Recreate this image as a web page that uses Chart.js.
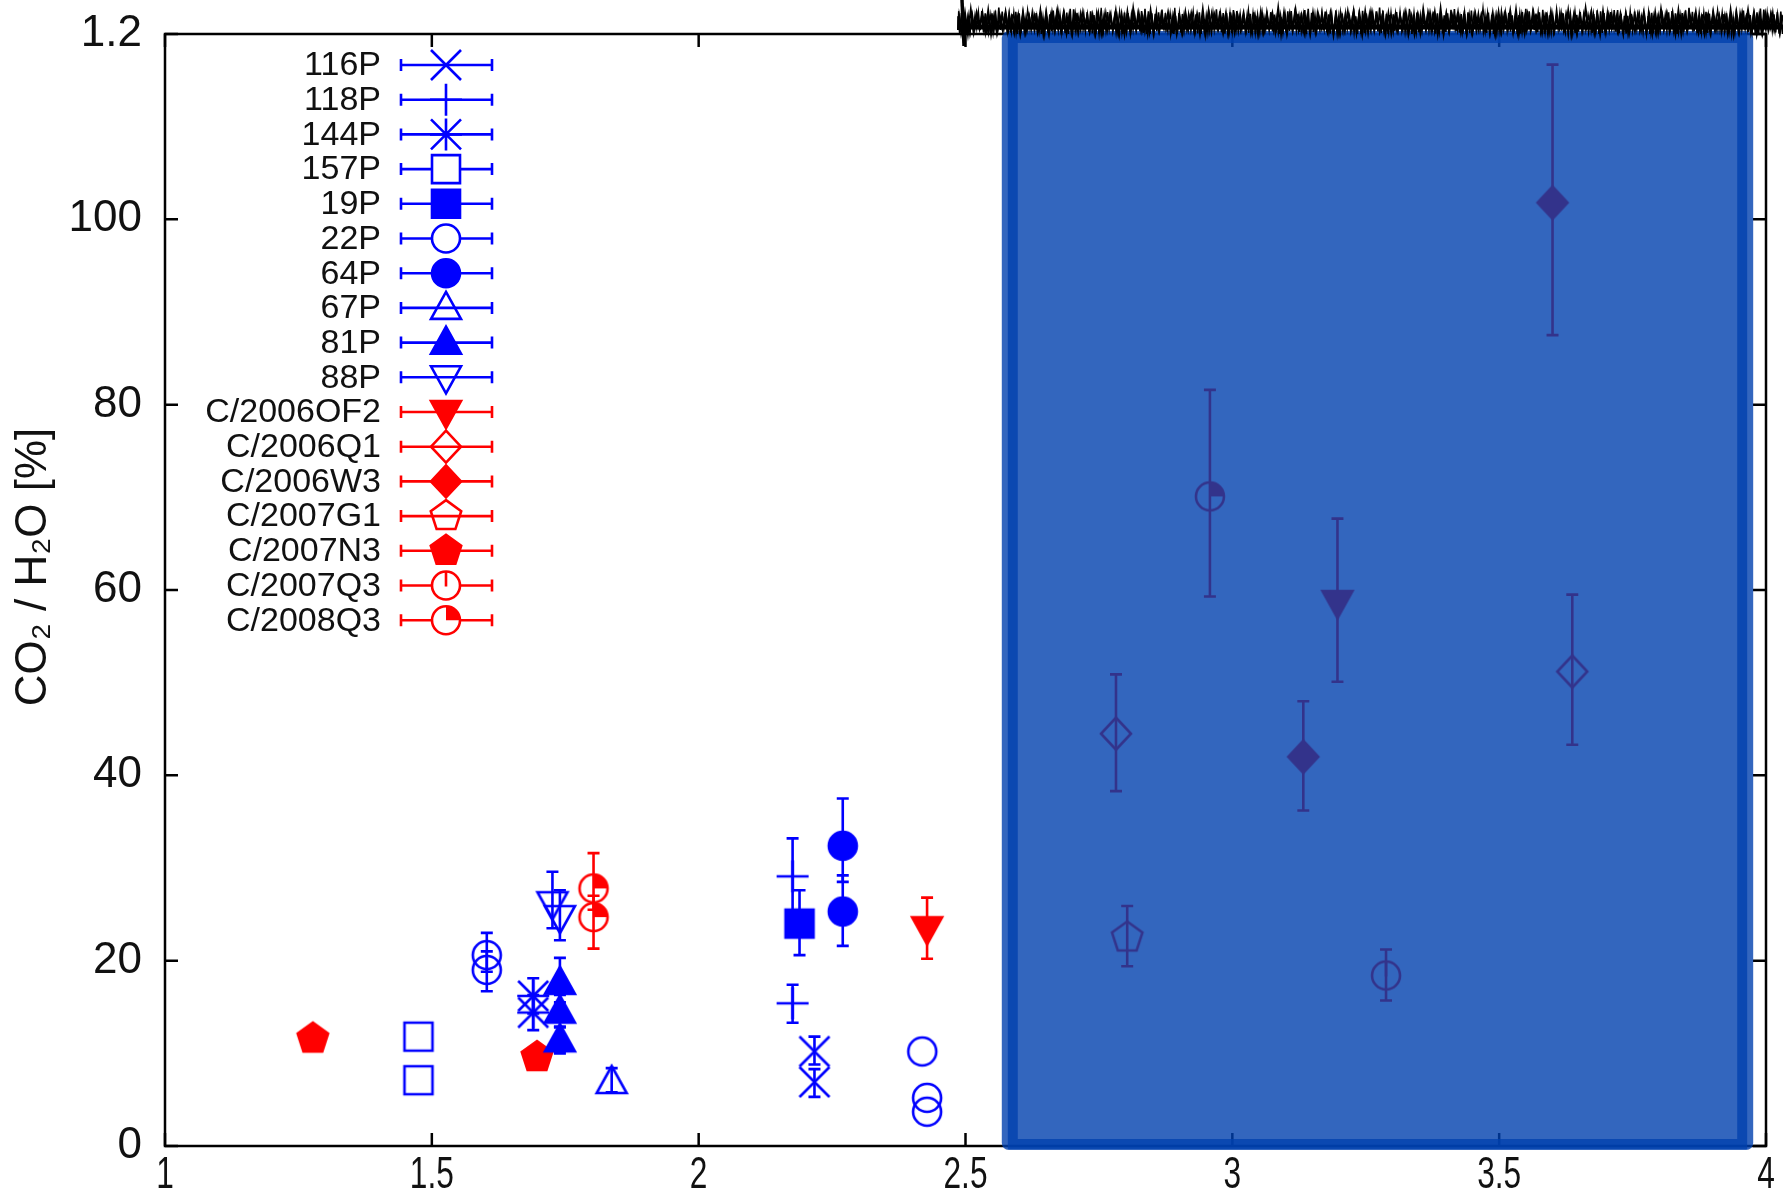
<!DOCTYPE html>
<html>
<head>
<meta charset="utf-8">
<script src="https://cdn.jsdelivr.net/npm/chart.js@4.4.1/dist/chart.umd.min.js"></script>
<style>
  html, body { margin: 0; padding: 0; background: #fff; }
  #contenedor { width: 1783px; height: 1201px; }
</style>
</head>
<body>
<div id="contenedor"><canvas id="graficoCO2"></canvas></div>
<script>
// Ejes
const ticksX = [1, 1.5, 2, 2.5, 3, 3.5, 4];
const ticksY = [0, 20, 40, 60, 80, 100, 120];
const etiquetasY = ['0', '20', '40', '60', '80', '100', '1.2'];

// Cometas (nombre, color del grupo)
const nombres = ['116P', '118P', '144P', '157P', '19P', '22P', '64P', '67P', '81P', '88P',
  'C/2006OF2', 'C/2006Q1', 'C/2006W3', 'C/2007G1', 'C/2007N3', 'C/2007Q3', 'C/2008Q3'];

// Valores: x, CO2/H2O, límite inferior y superior de la barra de error
const x116P = [2.217, 2.217], y116P = [10.2, 6.9], lo116P = [8.8, 5.3], hi116P = [11.8, 8.3];
const x118P = [2.176, 2.176], y118P = [29.1, 15.4], lo118P = [25.0, 13.3], hi118P = [33.2, 17.4];
const x144P = [1.69, 1.69], y144P = [16.2, 14.4], lo144P = [14.3, 12.5], hi144P = [18.1, 16.3];
const x157P = [1.475, 1.475], y157P = [11.8, 7.1], lo157P = [null, null], hi157P = [null, null];
const x19P = [2.189], y19P = [24.0], lo19P = [20.6], hi19P = [27.6];
const x22P = [1.603, 1.603, 2.419, 2.428, 2.428], y22P = [20.6, 19.0, 10.2, 5.2, 3.7];
const lo22P = [18.8, 16.7, null, null, null], hi22P = [23.0, 21.0, null, null, null];
const x64P = [2.27, 2.27], y64P = [32.4, 25.3], lo64P = [28.5, 21.6], hi64P = [37.5, 29.2];
const x67P = [1.837], y67P = [6.9], lo67P = [5.8], hi67P = [8.4];
const x81P = [1.74, 1.74, 1.74], y81P = [17.6, 14.5, 11.4], lo81P = [15.5, 12.8, 10.0], hi81P = [20.3, 16.3, 12.9];
const x88P = [1.726, 1.74], y88P = [26.2, 24.7], lo88P = [23.5, 22.2], hi88P = [29.6, 27.6];
const xOF2 = [2.428, 3.197], yOF2 = [23.5, 58.7], loOF2 = [20.2, 50.1], hiOF2 = [26.8, 67.7];
const xQ1 = [2.782, 3.637], yQ1 = [44.5, 51.2], loQ1 = [38.3, 43.3], hiQ1 = [50.9, 59.5];
const xW3 = [3.133, 3.600], yW3 = [42.0, 101.8], loW3 = [36.2, 87.5], hiW3 = [48.0, 116.7];
const xG1 = [2.803], yG1 = [22.5], loG1 = [19.4], hiG1 = [25.9];
const xN3 = [1.277, 1.697], yN3 = [11.6, 9.6], loN3 = [null, null], hiN3 = [null, null];
const x07Q3 = [3.288], y07Q3 = [18.4], lo07Q3 = [15.7], hi07Q3 = [21.2];
const x08Q3 = [1.803, 1.803, 2.958], y08Q3 = [27.8, 24.7, 70.1], lo08Q3 = [25.5, 21.3, 59.3], hi08Q3 = [31.6, 27.0, 81.6];

// Zona resaltada (en unidades del eje x)
const zonaX = [2.568, 3.976];

const series = [
  [x116P, y116P, lo116P, hi116P], [x118P, y118P, lo118P, hi118P], [x144P, y144P, lo144P, hi144P],
  [x157P, y157P, lo157P, hi157P], [x19P, y19P, lo19P, hi19P], [x22P, y22P, lo22P, hi22P],
  [x64P, y64P, lo64P, hi64P], [x67P, y67P, lo67P, hi67P], [x81P, y81P, lo81P, hi81P],
  [x88P, y88P, lo88P, hi88P], [xOF2, yOF2, loOF2, hiOF2], [xQ1, yQ1, loQ1, hiQ1],
  [xW3, yW3, loW3, hiW3], [xG1, yG1, loG1, hiG1], [xN3, yN3, loN3, hiN3],
  [x07Q3, y07Q3, lo07Q3, hi07Q3], [x08Q3, y08Q3, lo08Q3, hi08Q3]
];

const AZUL = 'rgb(0,0,255)';
const ROJO = 'rgb(255,0,0)';
const estilos = [
  ['crossRot', AZUL, false], ['cross', AZUL, false], ['star', AZUL, false],
  ['rect', AZUL, false], ['rect', AZUL, true], ['circle', AZUL, false],
  ['circle', AZUL, true], ['triangle', AZUL, false], ['triangle', AZUL, true],
  ['triangleDown', AZUL, false], ['triangleDown', ROJO, true], ['diamond', ROJO, false],
  ['diamond', ROJO, true], ['pentagon', ROJO, false], ['pentagon', ROJO, true],
  ['clock', ROJO, false], ['quarter', ROJO, false]
];

const FUENTE = "'Liberation Sans', Arial, Helvetica, sans-serif";

// Dibuja un símbolo al estilo gnuplot centrado en (cx, cy)
function trazarMarcador(ctx, forma, cx, cy, color, relleno, fondoBlanco) {
  const r = 15;
  ctx.save();
  ctx.translate(cx, cy);
  ctx.strokeStyle = color;
  ctx.fillStyle = color;
  ctx.lineWidth = 2.6;
  ctx.beginPath();
  const cerrar = () => {
    ctx.closePath();
    if (relleno) ctx.fill();
    else if (fondoBlanco) { ctx.fillStyle = '#fff'; ctx.fill(); }
    ctx.stroke();
  };
  switch (forma) {
    case 'crossRot':
      ctx.moveTo(-r, -r); ctx.lineTo(r, r); ctx.moveTo(-r, r); ctx.lineTo(r, -r);
      ctx.stroke();
      break;
    case 'cross':
      ctx.moveTo(-r - 1, 0); ctx.lineTo(r + 1, 0); ctx.moveTo(0, -r - 1); ctx.lineTo(0, r + 1);
      ctx.stroke();
      break;
    case 'star':
      ctx.moveTo(-r, -r); ctx.lineTo(r, r); ctx.moveTo(-r, r); ctx.lineTo(r, -r);
      ctx.moveTo(-r - 1, 0); ctx.lineTo(r + 1, 0); ctx.moveTo(0, -r - 1); ctx.lineTo(0, r + 1);
      ctx.stroke();
      break;
    case 'rect':
      ctx.rect(-14, -14, 28, 28);
      cerrar();
      break;
    case 'circle':
      ctx.arc(0, 0, 14, 0, Math.PI * 2);
      cerrar();
      break;
    case 'triangle':
      ctx.moveTo(0, -16); ctx.lineTo(15, 11); ctx.lineTo(-15, 11);
      cerrar();
      break;
    case 'triangleDown':
      ctx.moveTo(0, 16); ctx.lineTo(15, -11); ctx.lineTo(-15, -11);
      cerrar();
      break;
    case 'diamond':
      ctx.moveTo(0, -16); ctx.lineTo(15, 0); ctx.lineTo(0, 16); ctx.lineTo(-15, 0);
      cerrar();
      break;
    case 'pentagon':
      for (let k = 0; k < 5; k++) {
        const a = -Math.PI / 2 + k * 2 * Math.PI / 5;
        const px = 16 * Math.cos(a), py = 16 * Math.sin(a);
        if (k === 0) ctx.moveTo(px, py); else ctx.lineTo(px, py);
      }
      cerrar();
      break;
    case 'clock':
      ctx.arc(0, 0, 14, 0, Math.PI * 2);
      if (fondoBlanco) { ctx.fillStyle = '#fff'; ctx.fill(); }
      ctx.stroke();
      ctx.beginPath();
      ctx.moveTo(0, -14); ctx.lineTo(0, 1);
      ctx.stroke();
      break;
    case 'quarter':
      ctx.arc(0, 0, 14, 0, Math.PI * 2);
      if (fondoBlanco) { ctx.fillStyle = '#fff'; ctx.fill(); }
      ctx.stroke();
      ctx.beginPath();
      ctx.fillStyle = color;
      ctx.moveTo(0, 0); ctx.arc(0, 0, 14, -Math.PI / 2, 0); ctx.closePath();
      ctx.fill();
      break;
  }
  ctx.restore();
}

// Imagen para usar como pointStyle
function crearSimbolo(forma, color, relleno) {
  const c = document.createElement('canvas');
  c.width = 44; c.height = 44;
  trazarMarcador(c.getContext('2d'), forma, 22, 22, color, relleno, false);
  return c;
}

const datasets = series.map((s, i) => ({
  label: nombres[i],
  data: s[0].map((x, j) => ({ x: x, y: s[1][j] })),
  pointStyle: crearSimbolo(estilos[i][0], estilos[i][1], estilos[i][2]),
  pointRadius: 15,
  showLine: false
}));

// Barras de error verticales, debajo de los símbolos
const barrasError = {
  id: 'barrasError',
  beforeDatasetsDraw(chart) {
    const ctx = chart.ctx;
    const sx = chart.scales.x, sy = chart.scales.y;
    ctx.save();
    ctx.lineWidth = 2.6;
    series.forEach((s, i) => {
      ctx.strokeStyle = estilos[i][1];
      s[0].forEach((x, j) => {
        if (s[2][j] == null || s[3][j] == null) return;
        const px = sx.getPixelForValue(x);
        const p1 = sy.getPixelForValue(s[2][j]);
        const p2 = sy.getPixelForValue(s[3][j]);
        ctx.beginPath();
        ctx.moveTo(px, p1); ctx.lineTo(px, p2);
        ctx.moveTo(px - 6, p1); ctx.lineTo(px + 6, p1);
        ctx.moveTo(px - 6, p2); ctx.lineTo(px + 6, p2);
        ctx.stroke();
      });
    });
    ctx.restore();
  }
};

// Marco, marcas interiores, leyenda, zona resaltada y títulos
const decoracion = {
  id: 'decoracion',
  afterDatasetsDraw(chart) {
    const ctx = chart.ctx;
    const a = chart.chartArea;
    const sx = chart.scales.x, sy = chart.scales.y;
    ctx.save();

    // marco
    ctx.strokeStyle = '#000';
    ctx.lineWidth = 2.5;
    ctx.strokeRect(a.left, a.top, a.right - a.left, a.bottom - a.top);
    ctx.beginPath();
    ticksX.forEach(v => {
      const px = sx.getPixelForValue(v);
      ctx.moveTo(px, a.bottom); ctx.lineTo(px, a.bottom - 13);
      ctx.moveTo(px, a.top); ctx.lineTo(px, a.top + 13);
    });
    ticksY.forEach(v => {
      const py = sy.getPixelForValue(v);
      ctx.moveTo(a.left, py); ctx.lineTo(a.left + 13, py);
      ctx.moveTo(a.right, py); ctx.lineTo(a.right - 13, py);
    });
    ctx.stroke();

    // etiquetas del eje x (tipografía estrecha)
    ctx.fillStyle = '#111';
    ctx.font = '44px ' + FUENTE;
    ctx.textAlign = 'center';
    ctx.textBaseline = 'alphabetic';
    ticksX.forEach(v => {
      const px = sx.getPixelForValue(v);
      ctx.save();
      ctx.translate(px, a.bottom + 42);
      ctx.scale(0.72, 1);
      ctx.fillText(String(v), 0, 0);
      ctx.restore();
    });

    // título del eje y
    ctx.save();
    ctx.translate(34, 567);
    ctx.rotate(-Math.PI / 2);
    ctx.textAlign = 'center';
    ctx.textBaseline = 'middle';
    ctx.fillText('CO\u2082 / H\u2082O [%]', 0, 0);
    ctx.restore();

    // leyenda
    nombres.forEach((n, i) => {
      const y = 65 + i * 34.7;
      ctx.fillStyle = '#111';
      ctx.font = '34px ' + FUENTE;
      ctx.textAlign = 'right';
      ctx.textBaseline = 'middle';
      ctx.fillText(n, 381, y + 1);
      ctx.strokeStyle = estilos[i][1];
      ctx.lineWidth = 2.6;
      ctx.beginPath();
      ctx.moveTo(401, y); ctx.lineTo(492, y);
      ctx.moveTo(401, y - 6); ctx.lineTo(401, y + 6);
      ctx.moveTo(492, y - 6); ctx.lineTo(492, y + 6);
      ctx.stroke();
      const f = estilos[i][0];
      const blanco = f === 'rect' || f === 'circle' || f === 'clock' || f === 'quarter';
      trazarMarcador(ctx, f, 446, y, estilos[i][1], estilos[i][2], blanco);
    });

    // zona resaltada
    const x0 = sx.getPixelForValue(zonaX[0]);
    const x1 = sx.getPixelForValue(zonaX[1]);
    ctx.fillStyle = 'rgba(0,64,174,0.8)';
    ctx.beginPath();
    ctx.roundRect(x0, a.top - 3, x1 - x0, a.bottom - a.top + 7, 7);
    ctx.fill();
    ctx.strokeStyle = 'rgba(0,64,174,0.78)';
    ctx.lineWidth = 10;
    ctx.strokeRect(x0 + 11, a.top + 4, x1 - x0 - 22, a.bottom - a.top - 6);
    ctx.restore();
  },
  afterDraw(chart) {
    // trazo a mano sobre el borde superior
    const ctx = chart.ctx;
    ctx.save();
    ctx.strokeStyle = '#000';
    ctx.lineWidth = 5;
    ctx.beginPath();
    ctx.moveTo(960, 27); ctx.lineTo(1783, 27);
    ctx.stroke();
    const pasos = [1.7, 2.3, 2.9];
    const grosores = [1.6, 1.3, 2.0];
    for (let p = 0; p < 3; p++) {
      ctx.lineWidth = grosores[p];
      ctx.beginPath();
      let arriba = true;
      ctx.moveTo(958, 30);
      for (let x = 958 + p * 0.6; x <= 1783; x += pasos[p]) {
        const yA = 7 + 6 * Math.abs(Math.sin(x * 0.173 + p)) + 5 * Math.abs(Math.sin(x * 0.041 + 2 * p));
        const yB = 28 + 6 * Math.abs(Math.sin(x * 0.119 + 3 * p));
        ctx.lineTo(x, arriba ? yA : yB);
        arriba = !arriba;
      }
      ctx.stroke();
    }
    ctx.lineWidth = 3.5;
    ctx.beginPath();
    ctx.moveTo(962, 0); ctx.lineTo(964, 46);
    ctx.stroke();
    ctx.restore();
  }
};

Chart.defaults.font.family = FUENTE;

new Chart(document.getElementById('graficoCO2'), {
  type: 'scatter',
  data: { datasets: datasets },
  plugins: [barrasError, decoracion],
  options: {
    responsive: true,
    maintainAspectRatio: false,
    animation: false,
    events: [],
    layout: { padding: { top: 34, right: 17, left: 0, bottom: 0 } },
    plugins: { legend: { display: false }, tooltip: { enabled: false } },
    scales: {
      x: {
        type: 'linear',
        min: 1, max: 4,
        grid: { display: false, drawTicks: false },
        border: { display: false },
        ticks: { display: false, stepSize: 0.5 },
        afterFit(scale) {
          scale.height = 55;
          scale.paddingLeft = 0; scale.paddingRight = 0;
        }
      },
      y: {
        type: 'linear',
        min: 0, max: 120,
        grid: { display: false, drawTicks: false },
        border: { display: false },
        ticks: {
          stepSize: 20,
          padding: 23,
          color: '#111',
          font: { size: 44 },
          callback: (v) => etiquetasY[ticksY.indexOf(v)]
        },
        afterFit(scale) {
          scale.width = 165;
          scale.paddingTop = 0; scale.paddingBottom = 0;
        }
      }
    }
  }
});
</script>
</body>
</html>
